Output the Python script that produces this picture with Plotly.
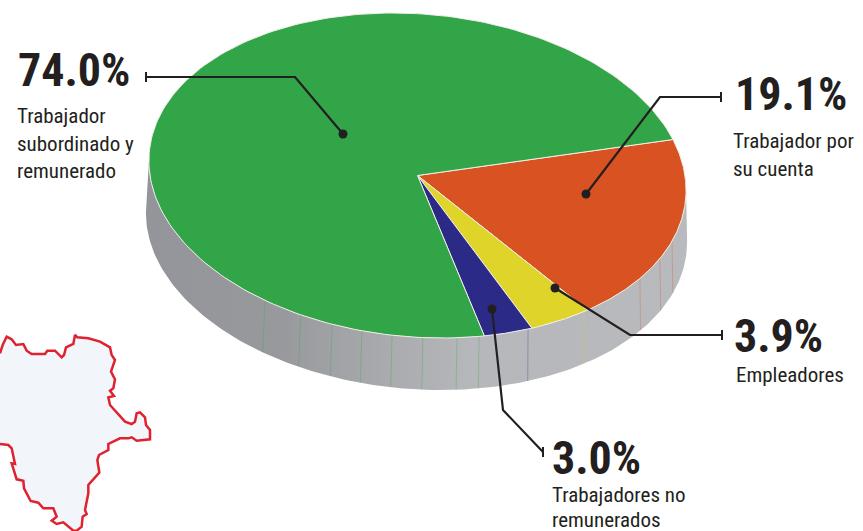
import numpy as np
import plotly.graph_objects as go

# data
categories = ["Trabajador por su cuenta", "Empleadores", "Trabajadores no remunerados", "Trabajador subordinado y remunerado"]
values = [19.1, 3.9, 3.0, 74.0]
colors = ["#d95322", "#dfd52a", "#2b2a86", "#31a547"]
value_labels = ["19.1%", "3.9%", "3.0%", "74.0%"]
label_lines = [["Trabajador por", "su cuenta"], ["Empleadores"], ["Trabajadores no", "remunerados"], ["Trabajador", "subordinado y", "remunerado"]]

# outline of the small locator map, read in pixels of the reference
map_x = [0,8,20,35,48,70,80,95,135,142,165,185,192,198,220,225,232,265,300,330,335,345,333,345,340,330,342,325,330,375,395,405,410,420,435,438,450,450,410,395,385,360,325,325,297,292,298,265,265,255,260,248,245,230,220,190,170,155,170,160,130,115,92,72,70,50,35,45,35,25,0]
map_y = [100,75,50,58,75,72,92,102,102,92,92,112,105,82,72,45,52,55,65,82,105,120,155,178,205,212,228,232,255,305,312,305,280,277,292,315,330,358,362,352,355,355,372,390,405,420,458,495,520,570,582,590,620,632,632,607,612,602,590,565,565,548,543,505,482,478,430,432,385,375,372]

# layout of the drawing: a sheared ellipse for the top, the same one lower for the base
CX, CY, RX, RY = 417.5, 175.5, 267.5, 162.5
BX, BY, BRX, BRY = 416.5, 227.5, 269.5, 162.5
SHEAR = 0.15
START = 12.8
rib_x = [265, 300.6, 332, 362, 392, 423, 457, 479, 528, 584, 640, 660, 672]

def top(t):
    t = np.radians(t)
    return CX + RX*np.cos(t) - SHEAR*RY*np.sin(t), CY - RY*np.sin(t)
def low(t):
    t = np.radians(t)
    return BX + BRX*np.cos(t) - SHEAR*BRY*np.sin(t), BY - BRY*np.sin(t)

fig = go.Figure()

# locator map
fig.add_trace(go.Scatter(x=[v/3 for v in map_x], y=[320+v/3 for v in map_y], mode="lines", fill="toself",
    fillcolor="#f2f6fa", line=dict(color="#e0212f", width=2.5), hoverinfo="skip", showlegend=False))

# side wall
ts = np.linspace(175, 355, 181)
lx, ly = low(ts)
tx, ty = top(ts[::-1])
fig.add_trace(go.Scatter(x=np.r_[lx, tx], y=np.r_[ly, ty], mode="lines", fill="toself",
    line=dict(width=0, color="rgba(0,0,0,0)"),
    fillgradient=dict(type="horizontal", colorscale=[[0, "#94959a"], [0.25, "#98999d"], [0.45, "#aaabae"], [0.6, "#b6b7ba"], [1, "#b9babd"]]),
    hoverinfo="skip", showlegend=False))

# slices
bounds = START - np.cumsum([0] + values) * 3.6
def slice_color_at(t):
    for i in range(len(values)):
        if bounds[i+1] <= t - 360 <= bounds[i] or bounds[i+1] <= t <= bounds[i]:
            return colors[i]
    return colors[-1]
grid = np.linspace(180, 360, 3601)
grid_x, _ = top(grid)
for rx in rib_x:
    t = grid[np.argmin(np.abs(grid_x - rx))]
    col = slice_color_at(t)
    x0, y0 = top(t); x1, y1 = low(t)
    r, g, b = int(col[1:3], 16), int(col[3:5], 16), int(col[5:7], 16)
    fig.add_trace(go.Scatter(x=[x0, x1], y=[y0, y1], mode="lines", line=dict(color=f"rgba({r},{g},{b},0.3)", width=1), hoverinfo="skip", showlegend=False))

for i, cat in enumerate(categories):
    ang = np.linspace(bounds[i], bounds[i+1], 200)
    ex, ey = top(ang)
    fig.add_trace(go.Scatter(x=np.r_[CX, ex, CX], y=np.r_[CY, ey, CY], mode="lines", fill="toself",
        fillcolor=colors[i], line=dict(color="#f1eeea", width=1), name=cat, hoverinfo="name", showlegend=False))

# callouts: dot, elbow, end
leaders = [
    ([586, 660, 721], [194, 97, 97]),
    ([555, 630, 722], [288, 335, 335]),
    ([492, 503, 543], [309, 410, 452]),
    ([343, 295, 146], [134, 77, 77]),
]
INK = "#231f20"
for xs, ys in leaders:
    fig.add_trace(go.Scatter(x=xs, y=ys, mode="lines", line=dict(color=INK, width=2.2), hoverinfo="skip", showlegend=False))
    fig.add_trace(go.Scatter(x=xs[:1], y=ys[:1], mode="markers", marker=dict(color=INK, size=9), hoverinfo="skip", showlegend=False))
    fig.add_trace(go.Scatter(x=[xs[-1], xs[-1]], y=[ys[-1]-5, ys[-1]+5], mode="lines", line=dict(color=INK, width=2), hoverinfo="skip", showlegend=False))

FONT = "Roboto Condensed"
big_pos = [(735, 94), (734, 336), (552, 458), (18, 70)]
line_pos = [(733, [141, 169]), (736, [375]), (552, [495, 520]), (17, [116, 144, 171])]
ann = []
for i in range(len(values)):
    x, y = big_pos[i]
    ann.append(dict(x=x, y=y, xref="x", yref="y", text=f"<b>{value_labels[i]}</b>", showarrow=False, xanchor="left", yanchor="middle",
                    xshift=-2, font=dict(family=FONT, size=46, color=INK)))
    lx0, ys = line_pos[i]
    for s, yy in zip(label_lines[i], ys):
        ann.append(dict(x=lx0, y=yy, xref="x", yref="y", text=s, showarrow=False, xanchor="left", yanchor="middle",
                        xshift=-2, font=dict(family=FONT, size=21, color=INK)))

fig.update_layout(width=863, height=531, margin=dict(l=0, r=0, t=0, b=0), paper_bgcolor="white", plot_bgcolor="white",
    xaxis=dict(range=[0, 863], visible=False, fixedrange=True),
    yaxis=dict(range=[531, 0], visible=False, fixedrange=True),
    annotations=ann, showlegend=False)
fig.write_html("out.html", config={"displayModeBar": False}, post_script="document.body.style.margin='0';document.body.style.overflow='hidden';")
